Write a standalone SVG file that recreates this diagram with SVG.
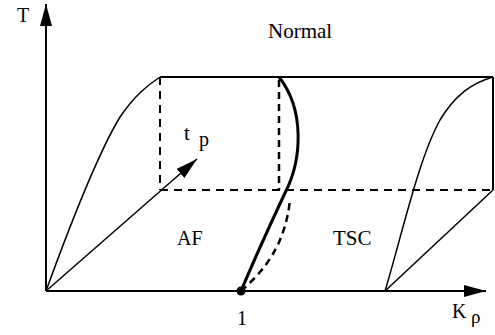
<svg xmlns="http://www.w3.org/2000/svg" width="495" height="335" viewBox="0 0 495 335">
<defs>
<style>
.ln{fill:none;stroke:#000;stroke-width:2}
.th{fill:none;stroke:#000;stroke-width:1.5}
.ds{fill:none;stroke:#000;stroke-width:2;stroke-dasharray:8,6}
.bd{fill:none;stroke:#000;stroke-width:3}
.bdd{fill:none;stroke:#000;stroke-width:2.5;stroke-dasharray:7,5}
</style>
<marker id="ahb" markerWidth="22" markerHeight="12" refX="22" refY="6" orient="auto" markerUnits="userSpaceOnUse" viewBox="0 0 22 12"><path d="M0,0 L22,6 L0,12 Z" fill="#000"/></marker>
</defs>
<g id="connectors">
<line class="ln" x1="46" y1="291" x2="46" y2="4" marker-end="url(#ahb)"/>
<line class="ln" x1="46" y1="291" x2="486" y2="291" marker-end="url(#ahb)"/>
<line class="th" x1="46" y1="291" x2="197" y2="159" marker-end="url(#ahb)"/>
<path class="th" d="M46,291 C70,225 100,150 120,117 C135,95 148,85 160,77"/>
<line class="ln" x1="160" y1="77" x2="493" y2="77"/>
<line class="ln" x1="493" y1="77" x2="493" y2="190"/>
<line class="th" x1="493" y1="190" x2="385" y2="291"/>
<line class="ds" x1="160" y1="77" x2="160" y2="190"/>
<line class="ds" x1="160" y1="190" x2="493" y2="190"/>
<line class="bdd" x1="279" y1="80" x2="279" y2="190"/>
<path class="th" d="M385,291 C402,235 418,160 440,120 C455,95 472,83 493,77"/>
<path class="bd" d="M279,77 C305,110 302,160 285,193 C270,225 252,265 241,291"/>
<path class="bdd" d="M241,291 C265,270 285,245 290,200"/>
</g>
<g id="point-1"><circle cx="241" cy="291" r="4.5" fill="#000"/></g>
<g id="labels" font-family="Liberation Serif, Times New Roman, serif" fill="#000">
<text x="17" y="22" font-size="20">T</text>
<text x="268" y="38" font-size="21">Normal</text>
<text x="184" y="140" font-size="21">t</text>
<text x="199" y="146" font-size="20">p</text>
<text x="177" y="245" font-size="20">AF</text>
<text x="333" y="245" font-size="21">TSC</text>
<text x="237" y="325" font-size="20">1</text>
<text x="452" y="318" font-size="20">K</text>
<text x="471" y="323" font-size="19">ρ</text>
</g>
</svg>
